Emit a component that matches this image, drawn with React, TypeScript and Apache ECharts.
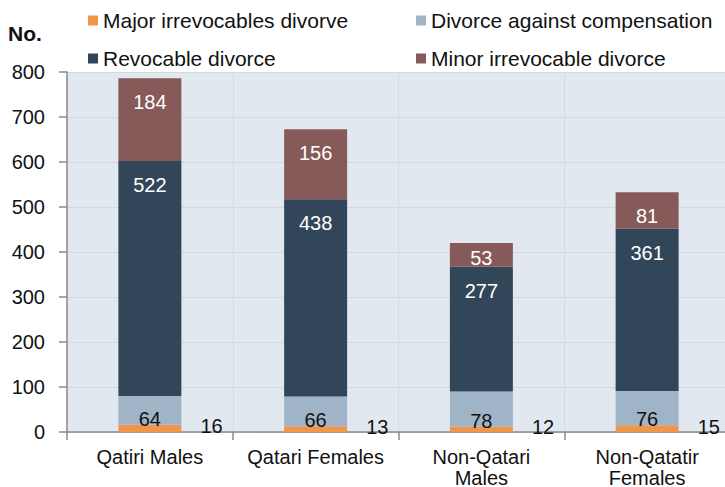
import React, { useEffect, useRef } from "react";
import * as echarts from "echarts";

const categories = ["Qatiri Males", "Qatari Females", "Non-Qatari Males", "Non-Qatatir Females"];
const majorIrrevocable = [16, 13, 12, 15];
const compensation = [64, 66, 78, 76];
const revocable = [522, 438, 277, 361];
const minorIrrevocable = [184, 156, 53, 81];
const seriesNames = [
  "Major irrevocables divorve",
  "Divorce against compensation",
  "Revocable divorce",
  "Minor irrevocable divorce",
];
const colors = ["#f0964a", "#a0b4c8", "#32465a", "#865a58"];

const FONT = "'Liberation Sans', Arial, sans-serif";

export default function App() {
  const ref = useRef<HTMLDivElement>(null);
  useEffect(() => {
    if (!ref.current) return;
    const chart = echarts.init(ref.current, undefined, { renderer: "svg" });
    const legendPos = [
      { left: 88, top: 10 },
      { left: 416, top: 10 },
      { left: 88, top: 48 },
      { left: 416, top: 48 },
    ];
    const legends = seriesNames.map((n, i) => ({
      data: [n],
      left: legendPos[i].left,
      top: legendPos[i].top,
      padding: 0,
      icon: "rect",
      itemWidth: 10,
      itemHeight: 10,
      selectedMode: false,
      textStyle: { fontFamily: FONT, fontSize: 21, color: "#111" },
    }));
    const labelBase = { show: true, fontFamily: FONT, fontSize: 20 };
    chart.setOption({
      animation: false,
      backgroundColor: "#ffffff",
      title: {
        text: "No.",
        left: 8,
        top: 23,
        padding: 0,
        textStyle: { fontFamily: FONT, fontSize: 21, fontWeight: "bold", color: "#111" },
      },
      legend: legends,
      grid: {
        left: 67,
        right: -5,
        top: 72,
        bottom: 55,
        show: true,
        backgroundColor: "#e1e8ef",
        borderWidth: 0,
        containLabel: false,
        outerBoundsMode: "none",
      },
      xAxis: {
        type: "category",
        data: categories,
        boundaryGap: true,
        axisLine: { lineStyle: { color: "#8a8a8a", width: 1.5 } },
        axisTick: { show: true, length: 8, interval: 0, lineStyle: { color: "#8a8a8a", width: 1.5 } },
        splitLine: { show: true, interval: 0, lineStyle: { color: "#d6dbe0", width: 1 } },
        axisLabel: {
          interval: 0,
          margin: 14,
          fontFamily: FONT,
          fontSize: 20,
          lineHeight: 21,
          color: "#111",
          formatter: (v: string) => v.replace(/^(Non-\S+) /, "$1\n"),
        },
      },
      yAxis: {
        type: "value",
        min: 0,
        max: 800,
        interval: 100,
        axisLine: { show: true, lineStyle: { color: "#8a8a8a", width: 1.5 } },
        axisTick: { show: true, length: 8, lineStyle: { color: "#8a8a8a", width: 1.5 } },
        splitLine: { show: true, lineStyle: { color: "#d3d8dd", width: 1.2 } },
        axisLabel: { margin: 22, fontFamily: FONT, fontSize: 20, color: "#111" },
      },
      series: [
        {
          name: seriesNames[0],
          type: "bar",
          stack: "s",
          barWidth: 63,
          data: majorIrrevocable,
          itemStyle: { color: colors[0] },
          label: { ...labelBase, color: "#111", position: "right", distance: 19, offset: [0, -2] },
        },
        {
          name: seriesNames[1],
          type: "bar",
          stack: "s",
          barWidth: 63,
          data: compensation,
          itemStyle: { color: colors[1] },
          label: { ...labelBase, color: "#111", position: "insideBottom", distance: 0, offset: [0, 4] },
        },
        {
          name: seriesNames[2],
          type: "bar",
          stack: "s",
          barWidth: 63,
          data: revocable,
          itemStyle: { color: colors[2] },
          label: { ...labelBase, color: "#fff", position: "insideTop", distance: 14 },
        },
        {
          name: seriesNames[3],
          type: "bar",
          stack: "s",
          barWidth: 63,
          data: minorIrrevocable.map((v) => (v < 60 ? { value: v, label: { distance: 5 } } : v)),
          itemStyle: { color: colors[3] },
          label: { ...labelBase, color: "#fff", position: "insideTop", distance: 14 },
        },
      ],
    });
    return () => chart.dispose();
  }, []);
  return (
    <div
      ref={ref}
      style={{ position: "fixed", left: 0, top: 0, width: 725, height: 487 }}
    />
  );
}
